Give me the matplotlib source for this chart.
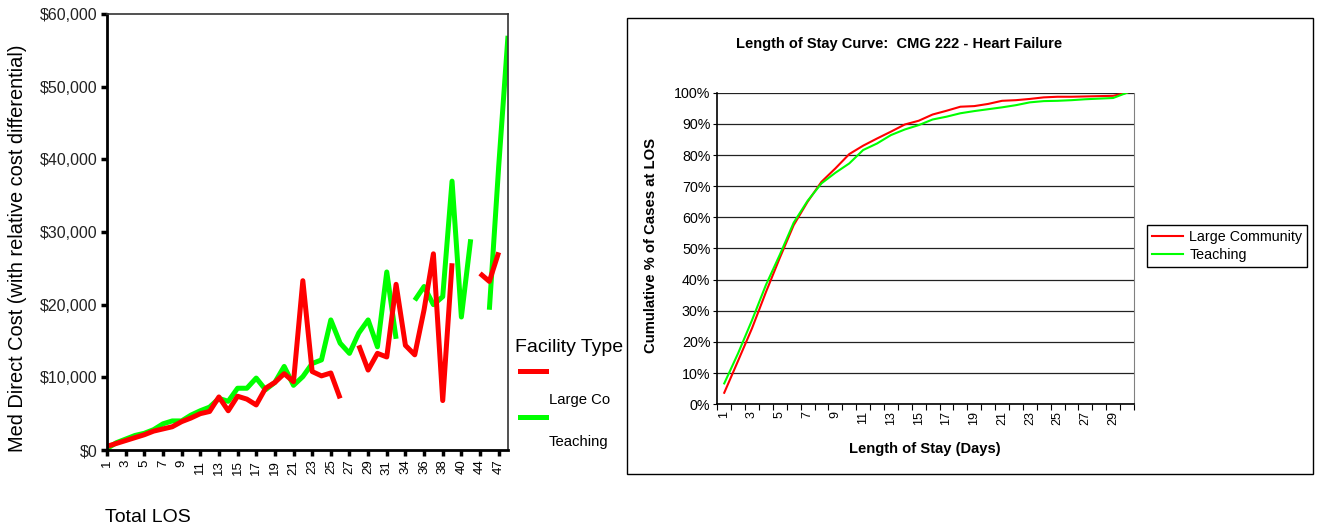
import matplotlib
matplotlib.use('Agg')
import matplotlib.pyplot as plt
import numpy as np
from matplotlib.lines import Line2D
from matplotlib.patches import Rectangle
from matplotlib.ticker import FuncFormatter

plt.rcParams['font.family'] = ['Liberation Sans', 'DejaVu Sans']

# left chart - median direct cost by total LOS ($ thousands, nan = gap)
los = [str(d) for d in range(1, 32)] + ['32', '34', '35', '36', '37', '38', '39',
                                        '40', '42', '44', '46', '47', '48']
large_co = [0.5, 0.9, 1.3, 1.7, 2.1, 2.6, 2.9, 3.2, 3.9, 4.4,
            5.0, 5.3, 7.3, 5.4, 7.4, 7.0, 6.2, 8.5, 9.3, 10.5,
            9.4, 23.3, 10.8, 10.2, 10.6, 7.1, np.nan, 14.4, 11.0, 13.3,
            12.8, 22.8, 14.4, 13.1, 19.3, 27.0, 6.8, 25.7, np.nan, np.nan,
            24.3, 23.2, 27.2, np.nan]
teaching = [0.2, 1.0, 1.5, 2.0, 2.3, 2.8, 3.6, 4.0, 4.0, 4.8,
            5.4, 5.9, 7.1, 6.7, 8.5, 8.5, 9.9, 8.3, 9.3, 11.5,
            8.9, 10.1, 11.9, 12.4, 17.9, 14.7, 13.3, 16.1, 17.9, 14.2,
            24.5, 15.3, np.nan, 20.6, 22.5, 20.0, 21.1, 37.0, 18.3, 29.0,
            np.nan, 19.3, 39.0, 57.0]

# right chart - cumulative % of cases at LOS
days = list(range(1, 31))
cum_large = [3.7, 14.0, 24.4, 36.0, 47.0, 57.5, 65.0, 71.4, 75.7, 80.3,
             83.0, 85.3, 87.5, 89.8, 91.0, 93.0, 94.2, 95.5, 95.7, 96.4,
             97.4, 97.6, 98.0, 98.5, 98.7, 98.7, 98.8, 98.9, 99.0, 100.0]
cum_teach = [6.7, 16.4, 27.0, 38.3, 48.0, 58.3, 65.3, 70.9, 74.3, 77.3,
             81.6, 83.7, 86.4, 88.2, 89.6, 91.4, 92.3, 93.4, 94.1, 94.7,
             95.3, 96.0, 96.9, 97.3, 97.4, 97.6, 97.9, 98.1, 98.3, 100.0]

W, H = 1319, 531
fig = plt.figure(figsize=(W / 100, H / 100), dpi=100)


def fx(px):
    return px / W


def fy(py):
    return 1 - py / H


# ---- left chart
ax1 = fig.add_axes([fx(107), fy(450), fx(401), 436 / H])
x = np.arange(len(los))
ax1.plot(x, np.array(teaching) * 1000, color='#00ff00', lw=3.6, solid_capstyle='butt')
ax1.plot(x, np.array(large_co) * 1000, color='#ff0000', lw=3.6, solid_capstyle='butt')
ax1.set_xlim(0, len(los) - 1)
ax1.set_ylim(0, 60000)
ax1.set_yticks(range(0, 60001, 10000))
ax1.yaxis.set_major_formatter(FuncFormatter(lambda v, p: '${:,.0f}'.format(v)))
ax1.set_xticks(x[::2])
ax1.set_xticklabels(los[::2], rotation=90, fontsize=9.5)
ax1.tick_params(axis='y', direction='out', length=4, width=2.5, labelsize=11.5,
                labelcolor='#222222', pad=3)
ax1.tick_params(axis='x', direction='out', length=4, width=2.5, pad=3)
for side in ['left', 'bottom']:
    ax1.spines[side].set_linewidth(2)
for side in ['top', 'right']:
    ax1.spines[side].set_linewidth(1.2)
    ax1.spines[side].set_color('#333333')

fig.text(fx(18), fy(248), 'Med Direct Cost (with relative cost differential)',
         rotation=90, ha='center', va='center', fontsize=14.4)
fig.text(fx(105), fy(517), 'Total LOS', ha='left', va='center', fontsize=14)

# legend of the left chart
fig.text(fx(515), fy(347), 'Facility Type', ha='left', va='center', fontsize=14)
fig.add_artist(Line2D([fx(520), fx(546)], [fy(371), fy(371)], color='#ff0000', lw=3.6,
                      transform=fig.transFigure))
fig.text(fx(549), fy(400), 'Large Co', ha='left', va='center', fontsize=10.7)
fig.add_artist(Line2D([fx(520), fx(546)], [fy(417), fy(417)], color='#00ff00', lw=3.6,
                      transform=fig.transFigure))
fig.text(fx(549), fy(442), 'Teaching', ha='left', va='center', fontsize=10.7)

# ---- right chart
fig.add_artist(Rectangle((fx(627), fy(474)), fx(686), 456 / H, transform=fig.transFigure,
                         fill=False, ec='black', lw=1))

ax2 = fig.add_axes([fx(717.3), fy(404.3), fx(416.7), 311.6 / H])
ax2.plot(days, cum_large, color='#ff0000', lw=1.5, label='Large Community')
ax2.plot(days, cum_teach, color='#00ff00', lw=1.5, label='Teaching')
ax2.set_xlim(0.5, 30.5)
ax2.set_ylim(0, 100)
ax2.set_yticks(range(0, 101, 10))
ax2.yaxis.set_major_formatter(FuncFormatter(lambda v, p: '%d%%' % v))
ax2.set_xticks(days[::2])
ax2.set_xticklabels([str(d) for d in days[::2]], rotation=90, fontsize=9)
ax2.set_xticks(np.arange(0.5, 31, 1), minor=True)
ax2.tick_params(axis='x', which='major', length=0, pad=5)
ax2.tick_params(axis='x', which='minor', direction='out', length=4, width=0.8)
ax2.tick_params(axis='y', direction='out', length=3, width=0.8, labelsize=10.3, pad=2)
ax2.grid(axis='y', color='#222222', lw=0.9)
ax2.set_axisbelow(True)
ax2.spines['top'].set_visible(False)
ax2.spines['right'].set_color('#808080')
ax2.spines['left'].set_linewidth(1.2)
ax2.spines['bottom'].set_linewidth(1.2)

fig.text(fx(899), fy(44), 'Length of Stay Curve:  CMG 222 - Heart Failure',
         ha='center', va='center', fontsize=10.5, fontweight='bold')
fig.text(fx(651), fy(245), 'Cumulative % of Cases at LOS', rotation=90,
         ha='center', va='center', fontsize=10.7, fontweight='bold')
fig.text(fx(925), fy(449), 'Length of Stay (Days)', ha='center', va='center',
         fontsize=10.6, fontweight='bold')

fig.legend(loc='upper left', bbox_to_anchor=(fx(1147), fy(225)), fontsize=10.3,
           frameon=True, fancybox=False, edgecolor='black', framealpha=1,
           borderaxespad=0, borderpad=0.35, labelspacing=0.3, handlelength=2.2,
           handletextpad=0.4)

fig.savefig('out.png', dpi=100)
